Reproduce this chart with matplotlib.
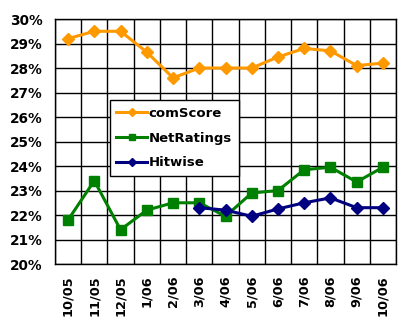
import numpy as np
import matplotlib.pyplot as plt

months = ["10/05", "11/05", "12/05", "1/06", "2/06", "3/06", "4/06",
          "5/06", "6/06", "7/06", "8/06", "9/06", "10/06"]
comscore = [29.2, 29.5, 29.5, 28.65, 27.6, 28.0, 28.0, 28.0, 28.45, 28.8, 28.7, 28.1, 28.2]
netratings = [21.8, 23.4, 21.4, 22.2, 22.5, 22.5, 21.95, 22.9, 23.0, 23.85, 23.95, 23.35, 23.95]
hitwise = [np.nan] * 5 + [22.3, 22.2, 21.95, 22.25, 22.5, 22.7, 22.3, 22.3]

plt.rcParams['font.family'] = ['DejaVu Sans']
plt.rcParams['font.weight'] = 'bold'

fig = plt.figure(figsize=(4.1, 3.28), dpi=100)
ax = fig.add_axes([0.134, 0.195, 0.832, 0.747])

x = np.arange(len(months))
ax.plot(x, comscore, color='#FF9900', lw=2.2, marker='D', ms=6.5, label='comScore')
ax.plot(x, netratings, color='#008000', lw=2.2, marker='s', ms=7.5, label='NetRatings')
ax.plot(x, hitwise, color='#000080', lw=2.2, marker='D', ms=6.5, label='Hitwise')

ax.set_xlim(-0.5, len(months) - 0.5)
ax.set_ylim(20, 30)
ax.set_yticks(np.arange(20, 31, 1))
ax.set_yticklabels([f"{v}%" for v in range(20, 31)], fontsize=9.8, fontweight='bold')
ax.set_xticks(x)
ax.set_xticklabels(months, rotation=90, fontsize=9.3, fontweight='bold')
ax.set_xticks(np.arange(-0.5, len(months), 1), minor=True)
ax.tick_params(which='both', length=0)
ax.tick_params(axis='y', pad=9)
ax.tick_params(axis='x', pad=8)
ax.grid(True, which='minor', axis='x', color='black', lw=1)
ax.grid(True, which='major', axis='y', color='black', lw=1)
ax.grid(False, which='major', axis='x')
for s in ax.spines.values():
    s.set_color('black')
    s.set_linewidth(1)
ax.set_axisbelow(True)

leg = ax.legend(loc='upper left', bbox_to_anchor=(0.161, 0.669), borderaxespad=0,
                fancybox=False, framealpha=1, edgecolor='black', fontsize=9.5,
                handlelength=2.3, labelspacing=0.9, borderpad=0.5,
                handletextpad=0.15, markerscale=0.65)
leg.get_frame().set_linewidth(1)

fig.savefig('out.png', dpi=100)
